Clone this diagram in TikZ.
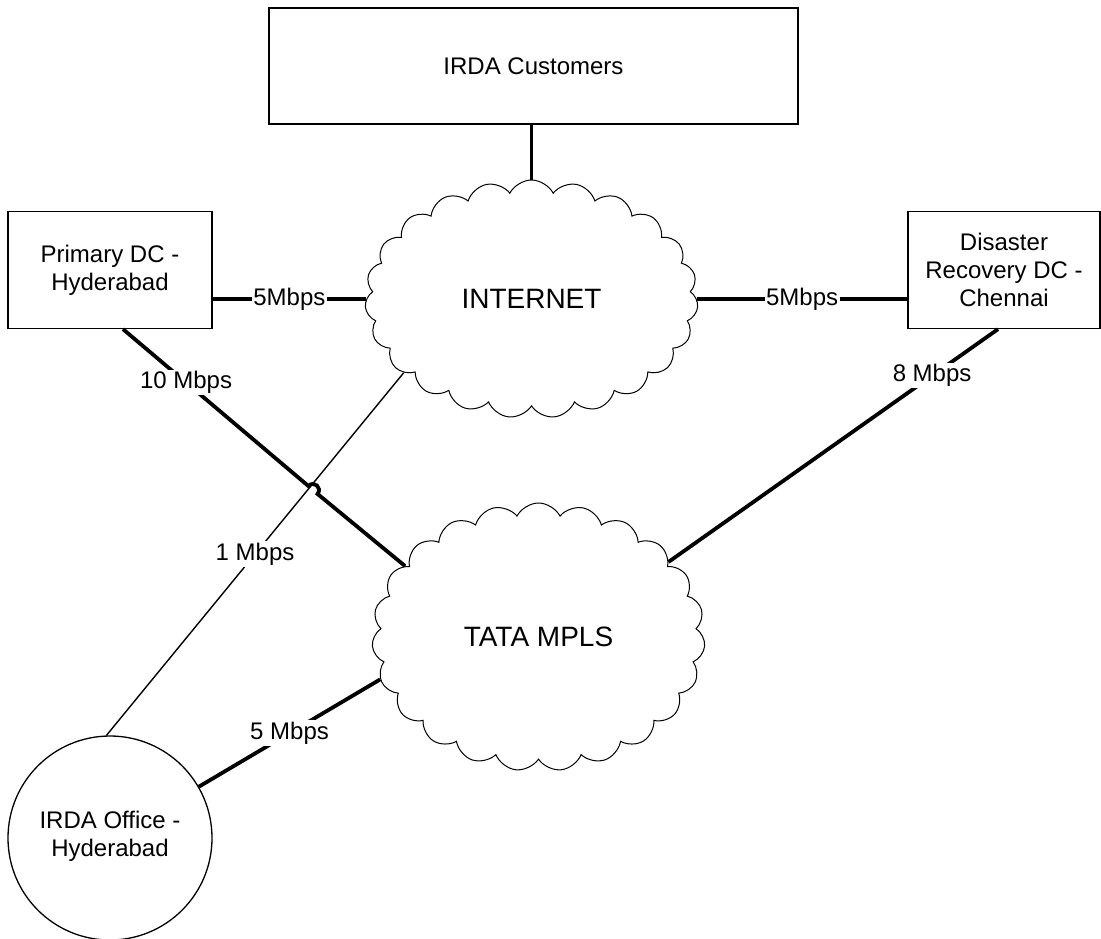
\documentclass[tikz,border=0pt]{standalone}
\usepackage{fontspec}
\setmainfont{Liberation Sans}
\usetikzlibrary{shapes.symbols,calc}
\begin{document}
\begin{tikzpicture}[x=1pt,y=-1pt,
  box/.style={draw, line width=1.3pt, align=center, inner sep=0pt, font=\fontsize{24}{28}\selectfont},
  boxtext/.style={align=center, inner sep=0pt, font=\fontsize{24}{28}\selectfont},
  cloudnode/.style={cloud, cloud puffs=23, cloud puff arc=125, cloud ignores aspect, draw, line width=1pt, inner sep=0pt, font=\fontsize{28}{32}\selectfont},
  fat/.style={line width=3.8pt},
  slim/.style={line width=1.4pt},
  lbl/.style={fill=white, inner sep=1.5pt, font=\fontsize{24}{28}\selectfont}]
\useasboundingbox (0,0) rectangle (1101,938);
\node[box, minimum width=529pt, minimum height=116pt] (cust) at (533.5,66) {IRDA Customers};
\node[cloudnode, minimum width=333pt, minimum height=238pt] (inet) at (531.5,299) {INTERNET};
\node[box, minimum width=204pt, minimum height=117pt] (pdc) at (110,270) {Primary DC -\\Hyderabad};
\node[box, minimum width=192pt, minimum height=117pt] (drdc) at (1004,270) {Disaster\\Recovery DC -\\Chennai};
\node[cloudnode, minimum width=333pt, minimum height=268pt] (tata) at (538.5,637) {TATA MPLS};
\node[draw, circle, line width=1.3pt, minimum size=204pt, inner sep=0pt] (office) at (110,838) {};
\node[boxtext] (officetxt) at (110,836) {IRDA Office -\\Hyderabad};
% hop coordinates
\coordinate (hopA) at (308.5,486.1);
\coordinate (hopAc) at (313.7,480.0);
\coordinate (hopBc) at (322.7,487.8);
\coordinate (hopB) at (317.5,493.9);
% connectors
\draw[fat] (cust.south -| inet.north) -- (inet.north);
\draw[fat] (pdc.east |- inet.west) -- node[lbl] {5Mbps} (inet.west);
\draw[fat] (inet.east) -- node[lbl] {5Mbps} (inet.east -| drdc.west);
\draw[slim] (inet.210.7) -- node[lbl] {1 Mbps} (office.92);
\draw[fat] ([xshift=13pt]pdc.south) -- node[lbl, pos=0.34] {10 Mbps} (hopA)
  .. controls (hopAc) and (hopBc) .. (hopB) -- (tata.152.7);
\draw[fat] ([xshift=-6pt]drdc.south) -- node[lbl, pos=0.2] {8 Mbps} (tata.30);
\draw[fat] (tata.195.3) -- node[lbl] {5 Mbps} (office.30);
\end{tikzpicture}
\end{document}
